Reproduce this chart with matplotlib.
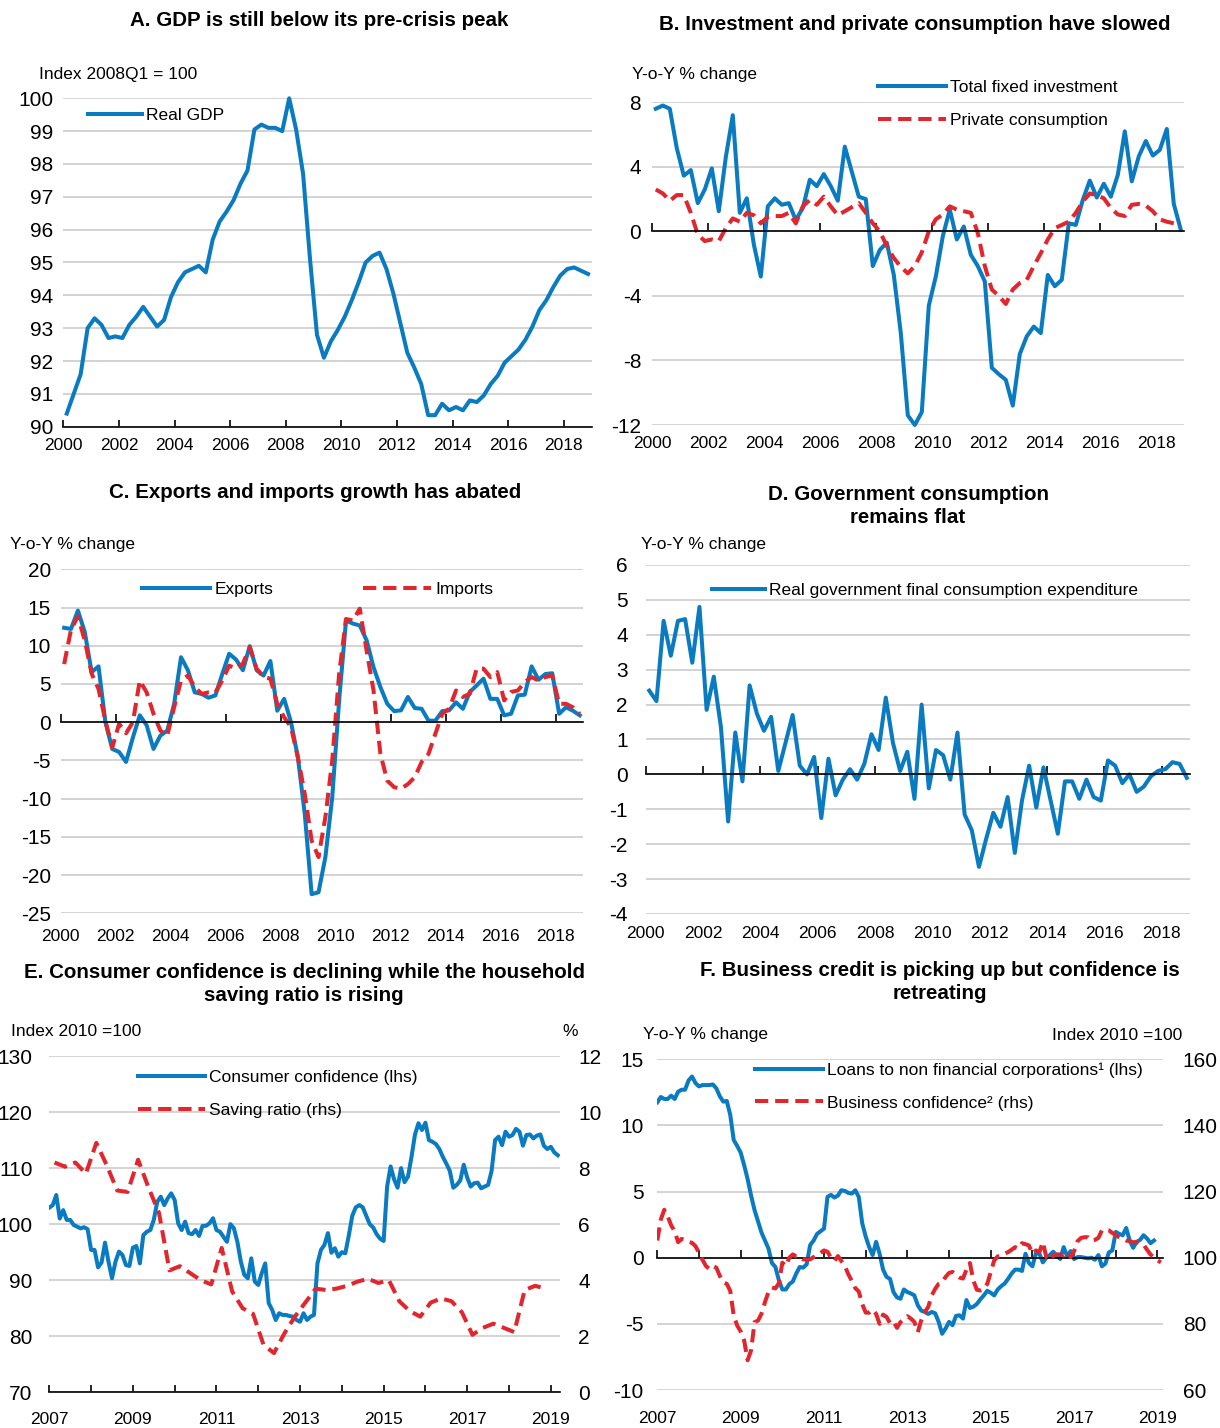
import numpy as np
import matplotlib
matplotlib.use('Agg')
import matplotlib.pyplot as plt
from matplotlib import font_manager as fm

# ---- data ----
# A. real GDP, index 2008Q1 = 100, quarterly 2000Q1-2018Q4
gdp = [90.4, 91.0, 91.6, 93.0, 93.3, 93.1, 92.7, 92.75, 92.7, 93.1, 93.35, 93.65, 93.35, 93.05, 93.25, 93.95,
       94.4, 94.7, 94.8, 94.9, 94.7, 95.7, 96.25, 96.55, 96.9, 97.4, 97.8, 99.05, 99.2, 99.1, 99.1, 99.0,
       100.0, 99.05, 97.7, 95.1, 92.8, 92.1, 92.6, 92.95, 93.35, 93.85, 94.4, 95.0, 95.2, 95.3, 94.8, 94.05,
       93.15, 92.25, 91.8, 91.3, 90.35, 90.35, 90.7, 90.5, 90.6, 90.5, 90.8, 90.75, 90.95, 91.3, 91.55, 91.95,
       92.15, 92.35, 92.65, 93.05, 93.55, 93.85, 94.25, 94.6, 94.8, 94.85, 94.75, 94.65]

# B. y-o-y % change, quarterly 2000Q1-2018Q4
investment = [7.6, 7.8, 7.6, 5.15, 3.45, 3.8, 1.75, 2.6, 3.9, 1.25, 4.6, 7.2, 1.15, 2.05, -0.8, -2.8,
              1.55, 2.05, 1.65, 1.75, 0.7, 1.45, 3.2, 2.8, 3.55, 2.8, 1.9, 5.25, 3.7, 2.15, 2.0, -2.15,
              -1.15, -0.7, -2.7, -6.3, -11.4, -12.0, -11.2, -4.6, -2.8, -0.3, 1.35, -0.5, 0.3, -1.45, -2.15, -3.1,
              -8.45, -8.85, -9.2, -10.8, -7.6, -6.5, -5.9, -6.3, -2.7, -3.4, -3.0, 0.5, 0.4, 1.95, 3.15, 2.1,
              2.95, 2.15, 3.5, 6.2, 3.1, 4.65, 5.6, 4.7, 5.05, 6.35, 1.7, 0.1]
consumption = [2.6, 2.35, 1.9, 2.25, 2.25, 1.15, -0.2, -0.6, -0.5, -0.6, 0.2, 0.8, 0.6, 1.15, 1.0, 0.5,
               0.9, 0.95, 0.95, 1.15, 0.5, 1.55, 1.95, 1.65, 2.15, 1.55, 1.0, 1.25, 1.5, 1.75, 1.15, 0.5,
               0.0, -0.9, -1.65, -2.2, -2.6, -2.15, -1.3, 0.0, 0.75, 1.05, 1.55, 1.35, 1.25, 1.15, -0.1, -2.15,
               -3.6, -4.0, -4.5, -3.6, -3.2, -3.0, -2.15, -1.35, -0.5, 0.2, 0.4, 0.6, 1.15, 1.85, 2.35, 2.25,
               2.05, 1.45, 1.05, 0.95, 1.65, 1.7, 1.6, 1.25, 0.75, 0.6, 0.5, 0.5]

# C. y-o-y % change, quarterly 2000Q1-2018Q4
exports = [12.35, 12.2, 14.6, 11.8, 6.55, 7.3, 0.0, -3.5, -3.9, -5.2, -2.0, 0.9, -0.4, -3.5, -1.75, -1.1,
           2.4, 8.5, 6.8, 3.9, 3.7, 3.2, 3.5, 6.3, 8.95, 8.2, 6.8, 9.95, 6.8, 6.1, 8.0, 1.5,
           3.05, 0.0, -4.6, -12.0, -22.5, -22.25, -17.65, -9.8, 2.85, 13.3, 12.9, 12.65, 10.7, 7.2, 4.6, 2.4,
           1.45, 1.55, 3.3, 1.85, 1.75, 0.2, 0.2, 1.45, 1.55, 2.6, 1.75, 3.95, 4.8, 5.7, 3.05, 3.05,
           0.9, 1.1, 3.5, 3.6, 7.3, 5.55, 6.3, 6.4, 1.1, 1.95, 1.5, 0.9]
imports = [7.6, 12.1, 13.85, 10.7, 6.35, 4.35, 0.2, -3.3, -0.2, -1.45, 0.0, 5.45, 3.9, 1.1, -1.1, -1.75,
           1.95, 5.45, 6.1, 4.6, 3.7, 3.9, 3.9, 5.45, 7.4, 7.0, 7.65, 9.8, 7.0, 5.9, 5.7, 2.4,
           0.65, -0.65, -4.6, -9.4, -15.5, -17.65, -12.4, -5.0, 6.35, 13.5, 13.3, 14.85, 9.35, 4.15, -4.15, -7.65,
           -8.5, -8.7, -8.1, -7.2, -5.2, -4.15, -1.5, 1.1, 1.75, 4.15, 3.3, 3.7, 7.0, 7.0, 5.9, 6.55,
           2.85, 3.95, 4.15, 5.25, 5.9, 5.45, 5.9, 6.1, 2.4, 2.4, 1.95, 1.1]

# D. y-o-y % change, quarterly 2000Q1-2018Q4
gov_cons = [2.4, 2.1, 4.4, 3.4, 4.4, 4.45, 3.2, 4.8, 1.85, 2.8, 1.35, -1.35, 1.2, -0.2, 2.55, 1.75,
            1.25, 1.65, 0.1, 0.9, 1.7, 0.25, 0.0, 0.5, -1.25, 0.45, -0.6, -0.15, 0.15, -0.15, 0.3, 1.15,
            0.7, 2.2, 0.9, 0.1, 0.65, -0.7, 2.0, -0.4, 0.7, 0.55, -0.15, 1.2, -1.15, -1.6, -2.65, -1.85,
            -1.1, -1.5, -0.65, -2.25, -0.75, 0.25, -0.95, 0.2, -0.75, -1.7, -0.2, -0.2, -0.7, -0.15, -0.65, -0.75,
            0.4, 0.25, -0.25, 0.0, -0.5, -0.35, -0.05, 0.1, 0.15, 0.35, 0.3, -0.1]

# E. consumer confidence (index 2010=100, monthly from Jan 2007), saving ratio (%, quarterly from 2007Q1)
cons_conf = [102.95, 103.4, 105.2, 101.0, 102.5, 100.75, 100.75, 99.85, 99.55, 99.25, 99.45, 99.1,
             95.4, 95.4, 92.3, 93.15, 96.7, 93.3, 90.35, 93.3, 95.1, 94.5, 92.7, 92.55,
             95.8, 96.1, 93.0, 98.05, 98.65, 98.95, 100.75, 104.0, 104.9, 103.4, 104.6, 105.5,
             104.3, 100.15, 98.95, 100.45, 98.4, 98.2, 98.95, 97.9, 99.7, 99.7, 100.15, 101.05,
             98.95, 98.65, 97.75, 96.85, 100.0, 99.25, 96.85, 93.3, 90.95, 90.35, 93.9, 89.75,
             89.15, 91.25, 93.0, 85.9, 84.7, 82.9, 84.1, 83.8, 83.8, 83.6, 83.5, 82.9,
             82.6, 84.1, 82.9, 83.5, 83.8, 93.0, 95.4, 96.3, 98.4, 94.9, 95.7, 94.2,
             95.0, 94.8, 98.0, 101.5, 103.0, 103.4, 103.0, 101.5, 100.0, 99.4, 98.2, 97.4,
             97.0, 106.7, 110.3, 108.0, 106.5, 110.0, 107.5, 108.5, 112.0, 116.0, 118.0, 116.8,
             118.1, 115.0, 114.7, 114.3, 113.4, 112.0, 110.8, 109.5, 106.5, 107.0, 107.8, 110.6,
             108.3, 106.7, 107.3, 107.4, 106.4, 106.7, 107.0, 109.5, 115.0, 115.6, 114.1, 116.5,
             115.6, 115.9, 117.0, 116.5, 114.0, 115.9, 116.0, 115.3, 115.8, 116.0, 114.0, 113.4,
             113.8, 112.8, 112.3]
saving = [8.2, 8.05, 8.2, 7.8, 8.9, 8.1, 7.2, 7.15, 8.3, 7.3, 6.4, 4.35, 4.5, 4.25, 4.0, 3.85,
          5.15, 3.6, 3.0, 2.8, 1.7, 1.4, 2.1, 2.7, 3.2, 3.7, 3.65, 3.7, 3.8, 3.95, 4.05, 3.9,
          4.0, 3.25, 2.9, 2.7, 3.2, 3.35, 3.25, 2.85, 2.05, 2.3, 2.45, 2.3, 2.15, 3.65, 3.8, 3.7]

# F. loans y-o-y % (monthly from Jan 2007), business confidence index 2010=100 (monthly from Jan 2007)
loans = [11.75, 12.15, 12.0, 12.0, 12.25, 12.0, 12.55, 12.7, 12.7, 13.4, 13.7, 13.2,
         12.95, 13.05, 13.05, 13.05, 13.1, 12.8, 12.2, 11.8, 11.85, 10.8, 8.9, 8.45,
         7.95, 7.0, 5.95, 4.7, 3.6, 2.75, 1.9, 1.3, 0.7, -0.4, -0.7, -1.7,
         -2.4, -2.4, -2.0, -1.8, -1.2, -0.7, -0.75, -0.5, 0.95, 1.3, 1.8, 2.0,
         2.2, 4.6, 4.75, 4.55, 4.7, 5.1, 5.05, 4.9, 4.85, 5.1, 4.6, 2.6,
         1.6, 0.8, 0.2, 1.2, 0.3, -0.9, -1.45, -1.6, -2.6, -3.0, -3.1, -2.4,
         -2.6, -2.7, -2.85, -3.6, -4.0, -4.1, -4.25, -4.1, -4.2, -4.85, -5.75, -5.35,
         -4.85, -5.1, -4.4, -4.35, -4.6, -3.2, -3.8, -3.7, -3.5, -3.15, -2.85, -2.5,
         -2.65, -2.85, -2.4, -2.15, -1.95, -1.6, -1.2, -0.9, -0.9, -1.0, 0.3, -0.4,
         -0.65, 0.35, 0.3, -0.35, 0.0, 0.2, 0.45, 0.15, -0.1, 0.8, 0.1, 0.5,
         -0.1, 0.05, 0.05, 0.0, -0.05, 0.0, -0.15, 0.2, -0.65, -0.45, 0.4, 0.55,
         1.95, 1.8, 1.7, 2.25, 1.3, 0.75, 1.2, 1.35, 1.7, 1.45, 1.1, 1.3]
bus_conf = [105.2, 111.5, 114.5, 112.5, 109.8, 108.0, 104.7, 105.7, 105.2, 104.8, 104.5, 103.5,
            101.5, 99.4, 97.5, 96.6, 97.5, 97.0, 94.5, 92.6, 92.1, 90.0, 82.5, 79.5,
            77.7, 75.0, 69.0, 72.0, 80.5, 81.0, 83.1, 86.6, 89.6, 91.0, 90.7, 92.3,
            98.5, 97.5, 100.0, 101.0, 100.4, 100.4, 99.5, 99.5, 99.5, 100.2, 100.8, 101.5,
            102.2, 101.8, 100.0, 99.0, 100.5, 99.0, 97.5, 95.0, 93.0, 90.8, 89.8, 86.0,
            83.4, 83.4, 84.3, 83.0, 80.0, 82.8, 82.1, 80.2, 80.7, 78.8, 80.5, 81.5,
            82.3, 81.6, 80.6, 77.5, 81.1, 83.6, 85.1, 88.6, 90.6, 92.1, 92.5, 94.2,
            95.4, 95.7, 94.7, 94.0, 93.7, 96.4, 98.4, 93.1, 90.3, 90.1, 90.6, 92.1,
            95.7, 99.2, 100.4, 100.7, 101.2, 101.7, 102.4, 103.2, 102.8, 104.4, 104.1, 103.7,
            101.2, 102.2, 101.7, 104.7, 100.2, 99.2, 100.7, 101.0, 101.0, 100.7, 101.7, 100.2,
            102.0, 105.0, 106.0, 106.2, 106.2, 105.2, 105.4, 106.0, 108.3, 108.5, 108.3, 107.5,
            106.8, 106.2, 105.7, 105.2, 105.0, 104.7, 104.7, 104.4, 104.0, 102.4, 101.0, 100.0,
            99.2, 98.6]

# ---- style ----
names = {f.name for f in fm.fontManager.ttflist}
family, narrow = 'Liberation Sans', False
for cand in ['Liberation Sans Narrow', 'Arial Narrow']:
    if cand in names:
        family, narrow = cand, True
        break
plt.rcParams['font.family'] = [family, 'DejaVu Sans']
plt.rcParams['axes.unicode_minus'] = False
FS = 14.5 if narrow else 12.5     # legends, units, x labels
YFS = 15                          # y tick labels look larger in the original
TFS = 14.8                        # titles
PT = 100 / 72

BLUE = '#0A7BC1'
RED = '#E2262E'
GRID = '#C8C8C8'
LW = 2.9
DASH = (0, (3.3, 1.7))

W, H = 1220, 1428
fig = plt.figure(figsize=(W / 100, H / 100), dpi=100)


def add_ax(x0, x1, ytop, ybot):
    return fig.add_axes([x0 / W, 1 - ybot / H, (x1 - x0) / W, (ybot - ytop) / H])


def fig_text(x, y, s, **kw):
    kw.setdefault('fontsize', FS)
    kw.setdefault('va', 'center')
    fig.text(x / W, 1 - y / H, s, **kw)


def title(x, y, s):
    fig_text(x, y, s, ha='center', fontweight='bold', fontsize=TFS, linespacing=1.3)


def base(ax, xlim, ylim, yticks, pad):
    ax.set_xlim(xlim)
    ax.set_ylim(ylim)
    ax.set_yticks(yticks, [str(t) for t in yticks])
    ax.yaxis.grid(True, color=GRID, lw=1.1)
    ax.set_axisbelow(True)
    for s in ['left', 'right', 'top']:
        ax.spines[s].set_visible(False)
    ax.tick_params(axis='y', length=0, pad=pad, labelsize=YFS)
    ax.spines['bottom'].set_linewidth(1.2)


def zero_axis(ax, ticks, label_years, pad):
    # black line with small upward ticks at y=0, year labels stay at the bottom
    ax.spines['bottom'].set_position(('data', 0))
    ax.set_xticks(ticks)
    ax.tick_params(axis='x', direction='in', length=5.5, width=1.2, labelbottom=False)
    sec = ax.secondary_xaxis('bottom')
    sec.set_xticks(label_years, [str(y) for y in label_years])
    sec.tick_params(length=0, pad=pad, labelsize=FS)
    sec.spines['bottom'].set_visible(False)


def add_legend(ax, handles, x, y, handle_px, ncol=1, colspace_px=20):
    ax.legend(handles=handles, loc='center left', bbox_to_anchor=(x / W, 1 - y / H),
              bbox_transform=fig.transFigure, frameon=False, borderpad=0, borderaxespad=0,
              handlelength=handle_px / (FS * PT), handletextpad=0.25, labelspacing=1.0,
              ncol=ncol, columnspacing=colspace_px / (FS * PT), fontsize=FS)


def quarters(start, n):
    return start + 0.125 + 0.25 * np.arange(n)


def months(start, n):
    return start + np.arange(n) / 12


# ---- A ----
axA = add_ax(63.3, 591.5, 98.3, 426.7)
base(axA, (2000, 2019), (90, 100), list(range(90, 101)), 7)
lA, = axA.plot(quarters(2000, len(gdp)), gdp, color=BLUE, lw=LW, clip_on=False, label='Real GDP')
axA.set_xticks(range(2000, 2019, 2), [str(y) for y in range(2000, 2019, 2)])
axA.tick_params(axis='x', direction='in', length=5, width=1.2, pad=8, labelsize=FS)
add_legend(axA, [lA], 88, 115, 54)
title(319, 20, 'A. GDP is still below its pre-crisis peak')
fig_text(39, 75, 'Index 2008Q1 = 100')

# ---- B ----
axB = add_ax(652.3, 1184.3, 102.3, 425)
base(axB, (2000, 2019), (-12, 8), [-12, -8, -4, 0, 4, 8], 8)
lB1, = axB.plot(quarters(2000, len(investment)), investment, color=BLUE, lw=LW, clip_on=False,
                label='Total fixed investment')
lB2, = axB.plot(quarters(2000, len(consumption)), consumption, color=RED, lw=LW, ls=DASH,
                label='Private consumption')
zero_axis(axB, range(2000, 2019, 2), range(2000, 2019, 2), 8)
add_legend(axB, [lB1, lB2], 878, 104, 68)
title(915, 25, 'B. Investment and private consumption have slowed')
fig_text(632, 75, 'Y-o-Y % change')

# ---- C ----
axC = add_ax(60.7, 583.2, 569.3, 913.3)
base(axC, (2000, 2019), (-25, 20), list(range(-25, 21, 5)), 7)
lC1, = axC.plot(quarters(2000, len(exports)), exports, color=BLUE, lw=LW, label='Exports')
lC2, = axC.plot(quarters(2000, len(imports)), imports, color=RED, lw=LW, ls=DASH, label='Imports')
zero_axis(axC, range(2000, 2019, 2), range(2000, 2019, 2), 11)
add_legend(axC, [lC1, lC2], 142, 589, 68, ncol=2, colspace_px=90)
title(315, 492, 'C. Exports and imports growth has abated')
fig_text(10, 545, 'Y-o-Y % change')

# ---- D ----
axD = add_ax(645.7, 1190.4, 565, 914)
base(axD, (2000, 2019), (-4, 6), list(range(-4, 7)), 13)
lD, = axD.plot(quarters(2000, len(gov_cons)), gov_cons, color=BLUE, lw=LW,
               label='Real government final consumption expenditure')
zero_axis(axD, range(2000, 2019, 2), range(2000, 2019, 2), 9)
add_legend(axD, [lD], 712, 590, 53)
title(908, 506, 'D. Government consumption\nremains flat')
fig_text(641, 545, 'Y-o-Y % change')

# ---- E ----
axE = add_ax(49.3, 560, 1056, 1392.3)
base(axE, (2007, 2019.22), (70, 130), list(range(70, 131, 10)), 12)
axE.set_xticks(range(2007, 2020), [str(y) if y % 2 else '' for y in range(2007, 2020)])
axE.tick_params(axis='x', direction='in', length=5, width=1.2, pad=14, labelsize=FS)
lE1, = axE.plot(months(2007, len(cons_conf)), cons_conf, color=BLUE, lw=LW,
                label='Consumer confidence (lhs)')
axE2 = axE.twinx()
axE2.set_ylim(0, 12)
axE2.set_yticks(range(0, 13, 2), [str(t) for t in range(0, 13, 2)])
axE2.tick_params(axis='y', length=0, pad=13, labelsize=YFS)
for s in axE2.spines.values():
    s.set_visible(False)
lE2, = axE2.plot(quarters(2007, len(saving)), saving, color=RED, lw=LW, ls=DASH,
                 label='Saving ratio (rhs)')
add_legend(axE2, [lE1, lE2], 138, 1094, 67)
title(304, 984, 'E. Consumer confidence is declining while the household\nsaving ratio is rising')
fig_text(11, 1032, 'Index 2010 =100')
fig_text(562, 1031, '%')

# ---- F ----
axF = add_ax(657.3, 1163.3, 1059.3, 1390)
base(axF, (2007, 2019.14), (-10, 15), [-10, -5, 0, 5, 10, 15], 10)
lF1, = axF.plot(months(2007, len(loans)), loans, color=BLUE, lw=LW,
                label='Loans to non financial corporations\u00b9 (lhs)')
zero_axis(axF, range(2007, 2020), range(2007, 2020, 2), 15)
axF2 = axF.twinx()
axF2.set_ylim(60, 160)
axF2.set_yticks(range(60, 161, 20), [str(t) for t in range(60, 161, 20)])
axF2.tick_params(axis='y', length=0, pad=14, labelsize=YFS)
for s in axF2.spines.values():
    s.set_visible(False)
lF2, = axF2.plot(months(2007, len(bus_conf)), bus_conf, color=RED, lw=LW, ls=DASH,
                 label='Business confidence\u00b2 (rhs)')
add_legend(axF2, [lF1, lF2], 755, 1086.5, 68)
title(940, 982, 'F. Business credit is picking up but confidence is\nretreating')
fig_text(643, 1034, 'Y-o-Y % change')
fig_text(1182, 1035, 'Index 2010 =100', ha='right')

fig.savefig('out.png', dpi=100)
